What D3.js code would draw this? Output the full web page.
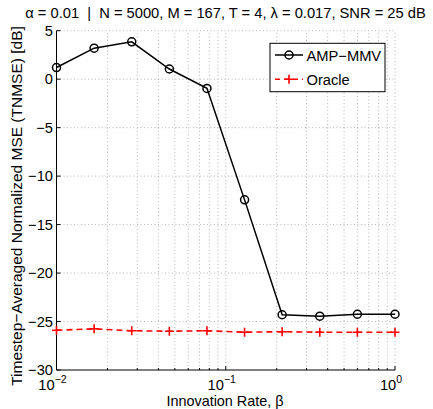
<!DOCTYPE html>
<html>
<head>
<meta charset="utf-8">
<script src="https://cdn.jsdelivr.net/npm/d3@7"></script>
<style>
  html, body { margin: 0; padding: 0; background: #fff; }
  svg text { font-family: "Liberation Sans", Arial, Helvetica, sans-serif; fill: #000; }
</style>
</head>
<body>
<svg id="chart" width="433" height="409"></svg>
<script>
// innovation rate (log spaced, 10 points)
const beta = [0.01, 0.01668, 0.02783, 0.04642, 0.07743, 0.1292, 0.2154, 0.3594, 0.5995, 1.0];
const ampMmv = [1.2, 3.2, 3.85, 1.05, -0.95, -12.45, -24.3, -24.45, -24.25, -24.25];
const oracle = [-25.9, -25.75, -25.95, -26.0, -25.95, -26.1, -26.05, -26.1, -26.1, -26.1];
const yTicks = [5, 0, -5, -10, -15, -20, -25, -30];
const xTicks = [0.01, 0.1, 1];
const xExp = ["\u22122", "\u22121", "0"];

const svg = d3.select("#chart");
const L = 56.5, R = 395, T = 30.7, B = 370;
const FS = 14.7;

const x = d3.scaleLog().domain([0.01, 1]).range([L, R]);
const y = d3.scaleLinear().domain([-30, 5]).range([B, T]);

// minor log ticks
const minor = [];
[0.01, 0.1].forEach(d => { for (let k = 2; k <= 9; k++) minor.push(d * k); });

// grid (dotted)
const grid = svg.append("g").attr("stroke", "#9a9a9a").attr("stroke-width", 0.7)
  .attr("stroke-dasharray", "1,2.5");
grid.selectAll("line.gx").data(minor.concat([0.1, 1]))
  .join("line").attr("x1", d => x(d)).attr("x2", d => x(d))
  .attr("y1", B).attr("y2", T);
grid.selectAll("line.gy").data(yTicks.filter(d => d > -30))
  .join("line").attr("x1", L).attr("x2", R)
  .attr("y1", d => y(d)).attr("y2", d => y(d));

// axes lines
svg.append("line").attr("x1", L).attr("x2", L).attr("y1", T).attr("y2", B)
  .attr("stroke", "#000").attr("stroke-width", 1);
svg.append("line").attr("x1", L).attr("x2", R).attr("y1", B).attr("y2", B)
  .attr("stroke", "#000").attr("stroke-width", 1);

// inward ticks
svg.selectAll("line.ytick").data(yTicks).join("line")
  .attr("x1", L).attr("x2", L + 4)
  .attr("y1", d => y(d)).attr("y2", d => y(d))
  .attr("stroke", "#000");
svg.selectAll("line.xtick").data(xTicks).join("line")
  .attr("x1", d => x(d)).attr("x2", d => x(d))
  .attr("y1", B).attr("y2", B - 4).attr("stroke", "#000");
svg.selectAll("line.xminor").data(minor).join("line")
  .attr("x1", d => x(d)).attr("x2", d => x(d))
  .attr("y1", B).attr("y2", B - 2).attr("stroke", "#000");

// y tick labels
svg.selectAll("text.ylab").data(yTicks).join("text")
  .attr("x", L - 3.5).attr("y", d => y(d) + 5)
  .attr("text-anchor", "end").attr("font-size", FS)
  .text(d => d < 0 ? "\u2212" + Math.abs(d) : d);

// x tick labels 10^n
const xl = svg.selectAll("text.xlab").data(xTicks).join("text")
  .attr("x", d => x(d) - 4).attr("y", 390)
  .attr("text-anchor", "middle").attr("font-size", FS);
xl.append("tspan").text("10");
xl.append("tspan").attr("font-size", 10.5).attr("dy", -7).text((d, i) => xExp[i]);

// axis titles
svg.append("text").attr("x", 225).attr("y", 406).attr("text-anchor", "middle")
  .attr("font-size", 14.4).text("Innovation Rate, \u03b2");
svg.append("text").attr("transform", "translate(21.5,206) rotate(-90)")
  .attr("text-anchor", "middle").attr("font-size", 15.5)
  .text("Timestep\u2212Averaged Normalized MSE (TNMSE) [dB]");
svg.append("text").attr("x", 225.5).attr("y", 17.5).attr("text-anchor", "middle")
  .attr("font-size", FS).attr("xml:space", "preserve")
  .text("\u03b1 = 0.01  |  N = 5000, M = 167, T = 4, \u03bb = 0.017, SNR = 25 dB");

// series
const line = d3.line().x(d => x(d[0])).y(d => y(d[1]));
const ampData = beta.map((b, i) => [b, ampMmv[i]]);
const orData = beta.map((b, i) => [b, oracle[i]]);

svg.append("path").datum(orData).attr("d", line).attr("fill", "none")
  .attr("stroke", "#ff0000").attr("stroke-width", 1.6).attr("stroke-dasharray", "6,4");
svg.selectAll("path.plus").data(orData).join("path")
  .attr("d", d => `M${x(d[0]) - 4.5},${y(d[1])}h9M${x(d[0])},${y(d[1]) - 4.5}v9`)
  .attr("stroke", "#ff0000").attr("stroke-width", 1.6);

svg.append("path").datum(ampData).attr("d", line).attr("fill", "none")
  .attr("stroke", "#000").attr("stroke-width", 1.5);
svg.selectAll("circle.amp").data(ampData).join("circle")
  .attr("cx", d => x(d[0])).attr("cy", d => y(d[1])).attr("r", 4)
  .attr("fill", "none").attr("stroke", "#000").attr("stroke-width", 1.5);

// legend
const lg = svg.append("g");
lg.append("rect").attr("x", 270).attr("y", 43.3).attr("width", 115).attr("height", 48.4)
  .attr("fill", "#fff").attr("stroke", "#000").attr("stroke-width", 1);
lg.append("line").attr("x1", 275).attr("x2", 303).attr("y1", 55).attr("y2", 55)
  .attr("stroke", "#000").attr("stroke-width", 1.5);
lg.append("circle").attr("cx", 289).attr("cy", 55).attr("r", 4)
  .attr("fill", "none").attr("stroke", "#000").attr("stroke-width", 1.5);
lg.append("text").attr("x", 306.5).attr("y", 60.5).attr("font-size", FS).text("AMP\u2212MMV");
lg.append("line").attr("x1", 275).attr("x2", 303).attr("y1", 79.3).attr("y2", 79.3)
  .attr("stroke", "#ff0000").attr("stroke-width", 1.6).attr("stroke-dasharray", "5,4");
lg.append("path").attr("d", "M284.5,79.3h9M289,74.8v9")
  .attr("stroke", "#ff0000").attr("stroke-width", 1.6);
lg.append("text").attr("x", 306.5).attr("y", 84.5).attr("font-size", FS).text("Oracle");
</script>
</body>
</html>
